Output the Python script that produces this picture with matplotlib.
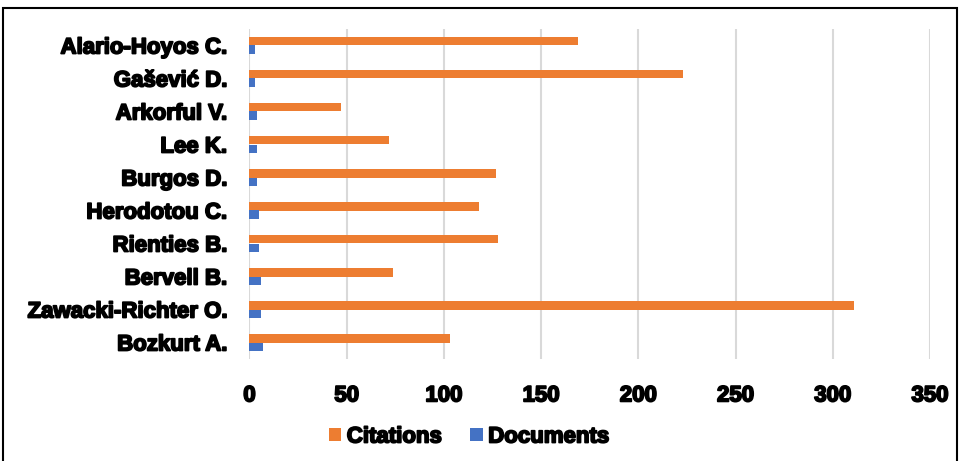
import numpy as np
import matplotlib
matplotlib.use('Agg')
import matplotlib.pyplot as plt
import matplotlib.patheffects as pe
from matplotlib.patches import Rectangle

authors = ['Alario-Hoyos C.', 'Gašević D.', 'Arkorful V.', 'Lee K.', 'Burgos D.',
           'Herodotou C.', 'Rienties B.', 'Bervell B.', 'Zawacki-Richter O.', 'Bozkurt A.']
citations = [169, 223, 47, 72, 127, 118, 128, 74, 311, 103]
documents = [3, 3, 4, 4, 4, 5, 5, 6, 6, 7]
xticks = [0, 50, 100, 150, 200, 250, 300, 350]

ORANGE = '#ED7D31'
BLUE = '#4472C4'

plt.rcParams['font.family'] = ['Liberation Sans', 'DejaVu Sans']
bold_fx = [pe.withStroke(linewidth=1.3, foreground='black')]

fig = plt.figure(figsize=(9.62, 4.61), dpi=100)
ax = fig.add_axes([249.5 / 962, 102 / 461, 680.5 / 962, 330 / 461])

y = np.arange(len(authors))
h = 0.25
ax.barh(y - h / 2, citations, height=h, color=ORANGE, label='Citations', zorder=3)
ax.barh(y + h / 2, documents, height=h, color=BLUE, label='Documents', zorder=3)

ax.set_xlim(0, 350)
ax.set_ylim(len(authors) - 0.5, -0.5)
ax.set_xticks(xticks)
ax.set_yticks(y)
ax.set_yticklabels(authors)
ax.grid(axis='x', color='#D9D9D9', linewidth=1.5, zorder=0)
ax.tick_params(axis='both', length=0, labelsize=16)
ax.tick_params(axis='y', pad=16)
ax.tick_params(axis='x', pad=19)
for s in ax.spines.values():
    s.set_visible(False)
for lab in ax.get_xticklabels() + ax.get_yticklabels():
    lab.set_fontweight('bold')
    lab.set_path_effects(bold_fx)

leg = fig.legend(loc='center', bbox_to_anchor=(469 / 962, 1 - 437 / 461), ncol=2,
                 frameon=False, prop={'size': 16, 'weight': 'bold'},
                 handlelength=0.55, handleheight=0.55, handletextpad=0.25,
                 columnspacing=1.3)
for t in leg.get_texts():
    t.set_path_effects(bold_fx)

fig.add_artist(Rectangle((3 / 962, -0.05), 954 / 962, 1.05 - 8 / 461,
                         transform=fig.transFigure, fill=False,
                         edgecolor='black', linewidth=1.5))

fig.savefig('out.png', dpi=100)
